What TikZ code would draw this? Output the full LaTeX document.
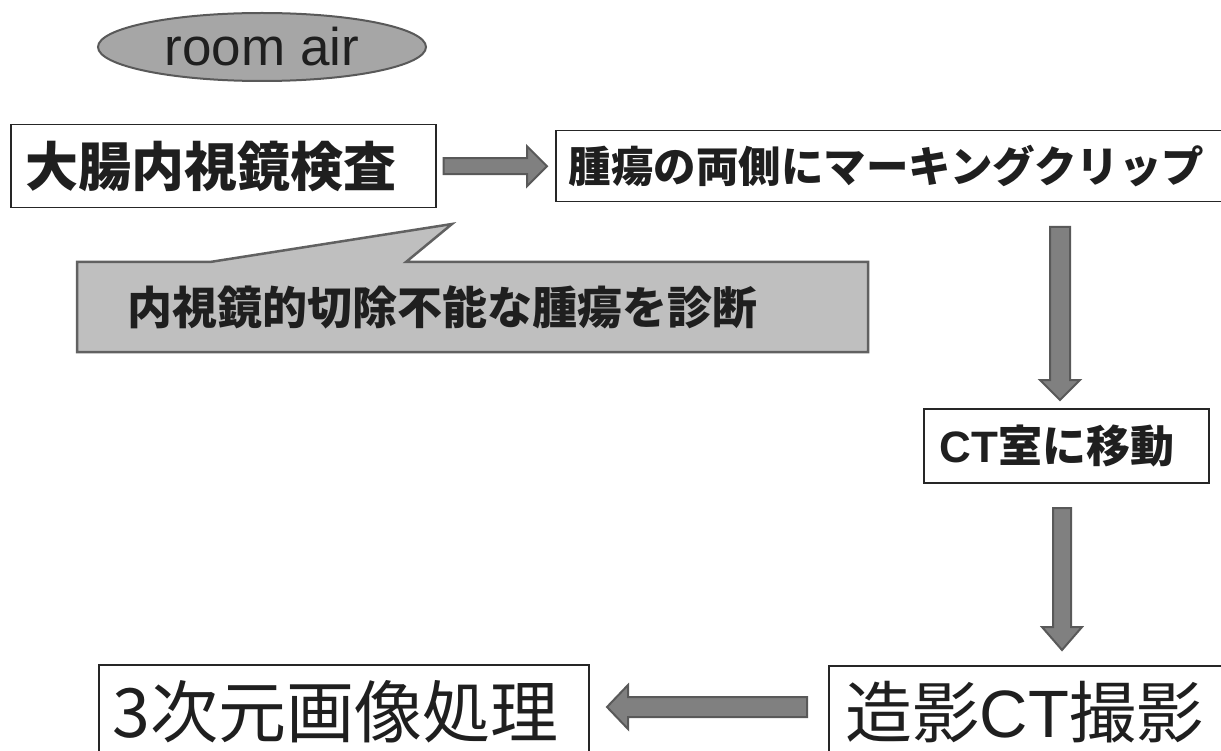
\documentclass[tikz,border=0pt]{standalone}
\usepackage{fontspec}
\setmainfont{Liberation Sans}
\newfontfamily\jp{Noto Sans CJK JP}
\usetikzlibrary{shapes.geometric,calc}
\newcommand\blockarr[5]{%
  \coordinate (bah) at ($(#2)!#5!(#1)$);
  \draw[blockarrow] ($(#1)!#3!90:(#2)$) -- ($(bah)!#3!-90:(#1)$) -- ($(bah)!#4!-90:(#1)$) -- (#2)
    -- ($(bah)!#4!90:(#1)$) -- ($(bah)!#3!90:(#1)$) -- ($(#1)!#3!-90:(#2)$) -- cycle;}
\begin{document}
\begin{tikzpicture}[x=1pt,y=-1pt,
  box/.style={draw=black!85, line width=1.5pt, fill=white, anchor=north west, align=left,
    inner ysep=0pt, text=black!88},
  blockarrow/.style={draw=black!65, fill=black!50, line width=2pt, line join=miter},
  callout/.style={draw=black!62, fill=black!25, line width=2.5pt, line join=miter},
  txt/.style={text=black!88, inner sep=0pt}]
\useasboundingbox (0,0) rectangle (1221,751);
\clip (0,0) rectangle (1221,751);

\node[ellipse, draw=black!65, line width=2pt, fill=black!35, minimum width=328pt,
  minimum height=68pt, inner sep=0pt, text=black!88,
  font=\fontsize{53}{53}\selectfont] (air) at (262,47) {room air};

\node[box, minimum width=425pt, minimum height=83pt, text width=395pt, inner xsep=15pt,
  font=\jp\bfseries\fontsize{53}{53}\selectfont] (endo) at (10,124) {大腸内視鏡検査};

\node[box, minimum width=680pt, minimum height=71pt, text width=654pt, inner xsep=13pt,
  font=\jp\bfseries\fontsize{42.5}{42.5}\selectfont] (clip) at (555,130) {腫瘍の両側にマーキングクリップ};

\draw[callout] (77,262) -- (210,262) -- (452,224) -- (406,262) -- (868,262) -- (868,352)
  -- (77,352) -- cycle;
\node[txt, anchor=west, font=\jp\bfseries\fontsize{45}{45}\selectfont] (diag) at (127,307)
  {内視鏡的切除不能な腫瘍を診断};

\node[box, minimum width=285pt, minimum height=74pt, text width=253pt, inner xsep=16pt,
  font=\jp\bfseries\fontsize{44}{44}\selectfont] (move) at (923,408)
  {{\rmfamily\bfseries CT}室に移動};

\node[box, minimum width=420pt, minimum height=92pt, text width=386pt, inner xsep=17pt,
  font=\jp\fontsize{67}{67}\selectfont] (ct) at (828,665) {造影{\rmfamily CT}撮影};

\node[box, minimum width=490pt, minimum height=94pt, text width=462pt, inner xsep=14pt,
  font=\jp\fontsize{68}{68}\selectfont] (proc) at (98,664) {3次元画像処理};

\coordinate (a1s) at ($(endo.east)+(7,0)$);
\coordinate (a1e) at ($(clip.west |- endo.east)+(-8,0)$);
\blockarr{a1s}{a1e}{8pt}{20pt}{20pt}

\coordinate (a2s) at (1060,227);
\coordinate (a2e) at (1060,400);
\blockarr{a2s}{a2e}{10pt}{20pt}{20pt}

\coordinate (a3s) at (1062,508);
\coordinate (a3e) at (1062,650);
\blockarr{a3s}{a3e}{9pt}{20pt}{23pt}

\coordinate (a4s) at (807,707);
\coordinate (a4e) at (607,707);
\blockarr{a4s}{a4e}{10pt}{22pt}{21pt}
\end{tikzpicture}
\end{document}
